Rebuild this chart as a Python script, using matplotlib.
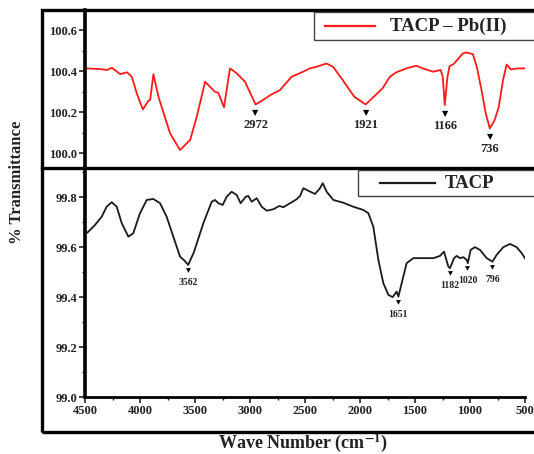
import numpy as np
import matplotlib
matplotlib.use("Agg")
import matplotlib.pyplot as plt
from matplotlib.lines import Line2D
from matplotlib.patches import Rectangle
from matplotlib.ticker import MultipleLocator, FormatStrFormatter

# FTIR spectrum of the Pb(II)-loaded sorbent (wave number, % transmittance)
pbWave = [4596, 4454, 4391, 4343, 4264, 4200, 4153, 4105, 4048, 3994, 3978, 3947,
          3899, 3788, 3693, 3597, 3533, 3454, 3406, 3359, 3328, 3273, 3248, 3216,
          3152, 3073, 3020, 2972, 2900, 2830, 2740, 2628, 2518, 2454, 2390, 2295,
          2232, 2140, 2030, 1921, 1860, 1810, 1760, 1690, 1628, 1533, 1438, 1375,
          1279, 1205, 1185, 1166, 1140, 1120, 1082, 994, 961, 898, 860, 815, 775,
          736, 690, 650, 610, 575, 535, 470, 400]
pbTrans = [100.413, 100.410, 100.405, 100.416, 100.385, 100.394, 100.372, 100.290,
           100.213, 100.255, 100.260, 100.385, 100.275, 100.096, 100.015, 100.063,
           100.177, 100.348, 100.323, 100.299, 100.294, 100.223, 100.307, 100.413,
           100.389, 100.348, 100.290, 100.237, 100.259, 100.283, 100.307, 100.372,
           100.397, 100.413, 100.421, 100.437, 100.421, 100.356, 100.275, 100.237,
           100.267, 100.291, 100.316, 100.372, 100.394, 100.413, 100.426, 100.413,
           100.397, 100.405, 100.372, 100.234, 100.372, 100.424, 100.434, 100.486,
           100.491, 100.483, 100.421, 100.307, 100.194, 100.120, 100.161, 100.226,
           100.356, 100.432, 100.408, 100.413, 100.413]
pbPeaks = [2972, 1921, 1166, 736]

# FTIR spectrum of the plain TACP
tacpWave = [4479, 4409, 4348, 4303, 4257, 4212, 4166, 4106, 4061, 4000, 3939, 3879,
            3818, 3758, 3697, 3636, 3595, 3562, 3510, 3424, 3348, 3318, 3288, 3248,
            3212, 3167, 3121, 3085, 3039, 3015, 2985, 2939, 2894, 2848, 2788, 2733,
            2697, 2636, 2576, 2545, 2515, 2470, 2409, 2364, 2339, 2303, 2242, 2152,
            2061, 1970, 1924, 1879, 1833, 1788, 1742, 1703, 1667, 1651, 1621, 1576,
            1515, 1424, 1333, 1273, 1236, 1197, 1182, 1145, 1121, 1091, 1061, 1030,
            1020, 994, 955, 909, 848, 796, 758, 697, 636, 576, 530, 491]
tacpTrans = [99.658, 99.689, 99.722, 99.762, 99.780, 99.762, 99.696, 99.642, 99.656,
             99.736, 99.789, 99.793, 99.776, 99.722, 99.642, 99.562, 99.546, 99.529,
             99.580, 99.696, 99.782, 99.789, 99.776, 99.769, 99.802, 99.822, 99.809,
             99.776, 99.802, 99.805, 99.782, 99.796, 99.762, 99.746, 99.752, 99.765,
             99.760, 99.776, 99.792, 99.805, 99.836, 99.826, 99.813, 99.836, 99.856,
             99.822, 99.789, 99.778, 99.762, 99.749, 99.736, 99.682, 99.549, 99.456,
             99.409, 99.400, 99.422, 99.402, 99.456, 99.536, 99.556, 99.556, 99.556,
             99.565, 99.582, 99.522, 99.516, 99.556, 99.565, 99.556, 99.560, 99.549,
             99.536, 99.589, 99.600, 99.589, 99.556, 99.542, 99.569, 99.600, 99.613,
             99.600, 99.576, 99.549]
tacpPeaks = [3562, 1651, 1182, 1020, 796]

plt.rcParams["font.family"] = ["Liberation Serif", "DejaVu Serif"]
plt.rcParams["font.weight"] = "bold"
plt.rcParams["mathtext.fontset"] = "stix"

W, H = 534, 454


def fx(x):
    return x / W


def fy(y):
    return 1 - y / H


fig = plt.figure(figsize=(W / 100, H / 100), dpi=100)
axTop = fig.add_axes([fx(85), fy(168), fx(440), 158 / H])
axBot = fig.add_axes([fx(85), fy(397), fx(440), 229 / H])


def styleAxis(ax):
    for side in ["top", "right", "bottom"]:
        ax.spines[side].set_visible(False)
    ax.spines["left"].set_linewidth(2.6)
    ax.tick_params(axis="both", which="major", direction="out", length=4,
                   width=1.2, labelsize=9, pad=1.5, colors="#222222")
    ax.tick_params(axis="both", which="minor", direction="out", length=2.5,
                   width=1.0, colors="#222222")
    for lbl in ax.get_yticklabels() + ax.get_xticklabels():
        lbl.set_fontweight("bold")


# upper panel: Pb(II) loaded
axTop.plot(pbWave, pbTrans, color="#ff1a1a", lw=1.3)
axTop.set_xlim(4600, 400)
axTop.set_ylim(99.927, 100.698)
axTop.yaxis.set_major_locator(MultipleLocator(0.2))
axTop.yaxis.set_minor_locator(MultipleLocator(0.1))
axTop.yaxis.set_major_formatter(FormatStrFormatter("%.1f"))
axTop.set_xticks([])
styleAxis(axTop)

# lower panel: TACP
axBot.plot(tacpWave, tacpTrans, color="#1a1a1a", lw=1.3)
axBot.set_xlim(4500, 500)
axBot.set_ylim(99.0, 99.917)
axBot.xaxis.set_major_locator(MultipleLocator(500))
axBot.xaxis.set_minor_locator(MultipleLocator(250))
axBot.yaxis.set_major_locator(MultipleLocator(0.2))
axBot.yaxis.set_minor_locator(MultipleLocator(0.1))
axBot.yaxis.set_major_formatter(FormatStrFormatter("%.1f"))
styleAxis(axBot)
axBot.spines["bottom"].set_visible(True)
axBot.spines["bottom"].set_linewidth(2.0)


def markPeaks(ax, wave, trans, peaks, size, textOff):
    yv = np.interp(peaks, wave[::-1], trans[::-1])
    for p, v in zip(peaks, yv):
        ax.annotate("\u25BC", (p, v), xytext=(0, -2.5), textcoords="offset points",
                    ha="center", va="top", fontsize=size * 0.65,
                    family="DejaVu Sans", color="k")
        ax.annotate(str(p), (p, v), xytext=(0, -textOff), textcoords="offset points",
                    ha="center", va="top", fontsize=size, fontweight="bold",
                    color="#222222")


markPeaks(axTop, pbWave, pbTrans, pbPeaks, 9, 10.5)
markPeaks(axBot, tacpWave, tacpTrans, tacpPeaks, 7, 9.5)

# outer frame and panel divider
fig.add_artist(Rectangle((fx(42), fy(432)), 1.2, (432 - 10) / H, fill=False,
                         lw=2.4, edgecolor="k", transform=fig.transFigure))
fig.add_artist(Line2D([fx(42), 1], [fy(168), fy(168)], lw=2.4, color="k",
                      transform=fig.transFigure))


def legendBox(x0, y0, y1, lx0, lx1, tx, label, color):
    fig.add_artist(Rectangle((fx(x0), fy(y1)), 1.0, (y1 - y0) / H, fill=False,
                             lw=1.0, edgecolor="#444444",
                             transform=fig.transFigure))
    yc = fy((y0 + y1) / 2)
    fig.add_artist(Line2D([fx(lx0), fx(lx1)], [yc, yc], lw=1.6, color=color,
                          transform=fig.transFigure))
    fig.text(fx(tx), yc, label, ha="left", va="center", fontsize=13.5,
             fontweight="bold", color="#222222")


legendBox(314, 12, 40, 325, 375, 390, "TACP \u2013 Pb(II)", "#ff1a1a")
legendBox(358, 170, 196, 380, 435, 445, "TACP", "#1a1a1a")

fig.text(fx(17), fy(182), "% Transmittance", rotation=90, ha="center",
         va="center", fontsize=12, fontweight="bold", color="#222222")
fig.text(fx(303), fy(443), r"Wave Number (cm$^{\mathbf{-1}}$)", ha="center",
         va="center", fontsize=13, fontweight="bold", color="#222222")

fig.savefig("out.png", dpi=100)
